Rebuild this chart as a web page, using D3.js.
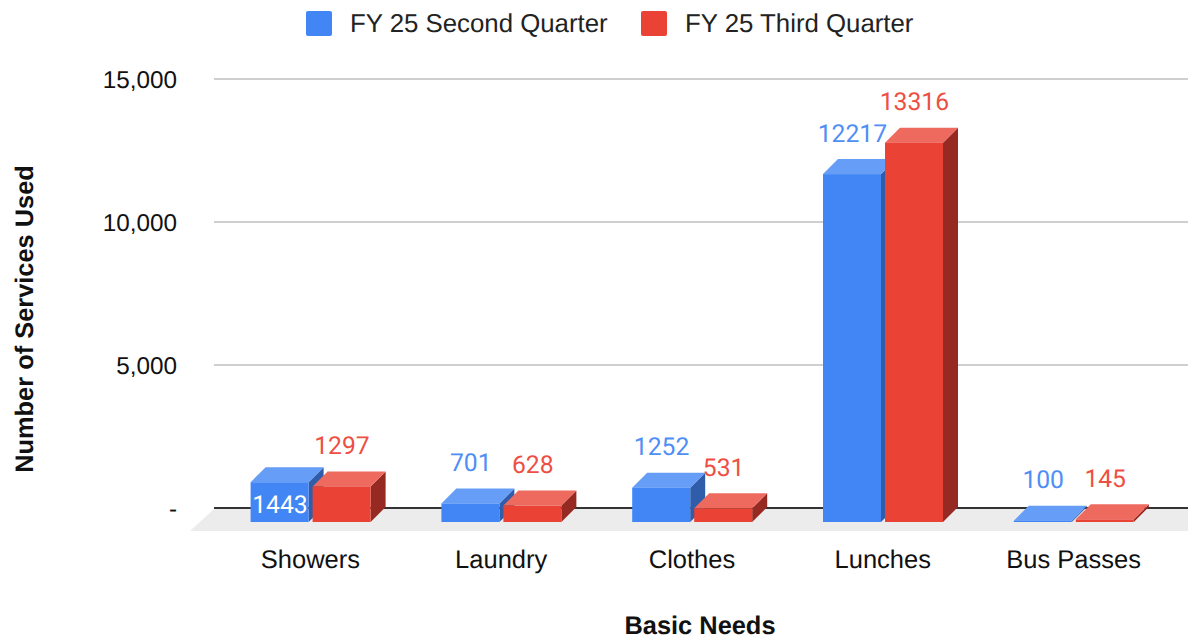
<!DOCTYPE html>
<html><head><meta charset="utf-8">
<script src="https://cdn.jsdelivr.net/npm/d3@7/dist/d3.min.js"></script>
<style>
html,body{margin:0;padding:0;background:#fff}
svg{display:block}
text{font-family:"Liberation Sans",Arial,sans-serif;text-rendering:geometricPrecision}
</style></head><body><svg id="c" width="1188" height="640"></svg>
<script>
const categories = ["Showers","Laundry","Clothes","Lunches","Bus Passes"];
const q2Values = [1443,701,1252,12217,100];
const q3Values = [1297,628,531,13316,145];
const seriesNames = ["FY 25 Second Quarter","FY 25 Third Quarter"];
const yTicks = [0,5000,10000,15000];
const xTitle = "Basic Needs", yTitle = "Number of Services Used";

const W=1188,H=640, left=214, right=1188, dx=15, dy=15;
const svg=d3.select("#c");
const y=d3.scaleLinear().domain([0,15000]).range([508,79]);
const x0=d3.scaleBand().domain(categories).range([215,1169]).paddingInner(0).paddingOuter(0);
const barW=58, gap=4;
const colors=[
 {front:"#4285f4",top:"#669df6",side:"#2f5da9",label:"#4f8ef5"},
 {front:"#ea4335",top:"#ee6a5f",side:"#962a22",label:"#ee4f43"}];

// floor
svg.append("path").attr("d",d3.line()([[left,509],[right,509],[right,531],[190,531]])+"Z").attr("fill","#ececec");
// grid
svg.append("g").selectAll("line").data(yTicks.filter(d=>d>0)).join("line")
 .attr("x1",left).attr("x2",right).attr("y1",d=>y(d)).attr("y2",d=>y(d))
 .attr("stroke","#cfcfcf").attr("stroke-width",2);
svg.append("line").attr("x1",left).attr("x2",right).attr("y1",y(0)).attr("y2",y(0)).attr("stroke","#333").attr("stroke-width",2);

// y tick labels
const fmt=d=>d===0?"-":d3.format(",")(d);
svg.append("g").selectAll("text").data(yTicks).join("text")
 .attr("x",177).attr("y",d=>y(d)+9).attr("text-anchor","end")
 .attr("font-size",24.3).attr("fill","#111").text(fmt);

// bars
const base=y(0)+dy-1;
const rows=categories.flatMap((c,i)=>[q2Values[i],q3Values[i]].map((v,s)=>({c,v,s,i})));
const barX=d=>x0(d.c)+x0.bandwidth()/2-barW-gap/2+0.2+d.s*(barW+gap);
const top_=d=>y(d.v)+dy+0.5;
const g=svg.append("g").selectAll("g").data(rows).join("g");
g.append("path").attr("fill",d=>colors[d.s].side).attr("d",d=>{const X=barX(d)+barW,T=top_(d);
 return d3.line()([[X,T],[X+dx,T-dy],[X+dx,base-dy],[X,base]])+"Z";});
g.append("path").attr("fill",d=>colors[d.s].top).attr("d",d=>{const X=barX(d),T=top_(d);
 return d3.line()([[X,T],[X+dx,T-dy],[X+barW+dx,T-dy],[X+barW,T]])+"Z";});
g.append("rect").attr("x",barX).attr("y",top_).attr("width",barW).attr("height",d=>base-top_(d)).attr("fill",d=>colors[d.s].front);

// data labels
svg.append("g").selectAll("text").data(rows).join("text")
 .attr("x",d=>barX(d)+barW/2+0.4)
 .attr("y",d=>d.c==="Showers"&&d.s===0? top_(d)+31 : top_(d)-32.5)
 .attr("text-anchor","middle").attr("font-size",24.7)
 .style("font-family","Roboto")
 .attr("fill",d=>d.c==="Showers"&&d.s===0?"#fff":colors[d.s].label)
 .text(d=>d.v);

// categories
svg.append("g").selectAll("text").data(categories).join("text")
 .attr("x",d=>x0(d)+x0.bandwidth()/2).attr("y",567.5).attr("text-anchor","middle")
 .attr("font-size",25.5).attr("fill","#111").text(d=>d);

// titles
svg.append("text").attr("x",700).attr("y",634.4).attr("text-anchor","middle").attr("font-size",25.4).attr("font-weight","bold").attr("fill","#111").text(xTitle);
svg.append("text").attr("transform","translate(33,319) rotate(-90)").attr("text-anchor","middle").attr("font-size",25.4).attr("font-weight","bold").attr("fill","#111").text(yTitle);

// legend
const lg=svg.append("g").selectAll("g").data(seriesNames).join("g")
 .attr("transform",(d,i)=>`translate(${i?641:306},11)`);
lg.append("rect").attr("width",26).attr("height",25).attr("rx",2).attr("fill",(d,i)=>colors[i].front);
lg.append("text").attr("x",44).attr("y",21).attr("font-size",25.8).attr("fill","#222").text(d=>d);
</script></body></html>
